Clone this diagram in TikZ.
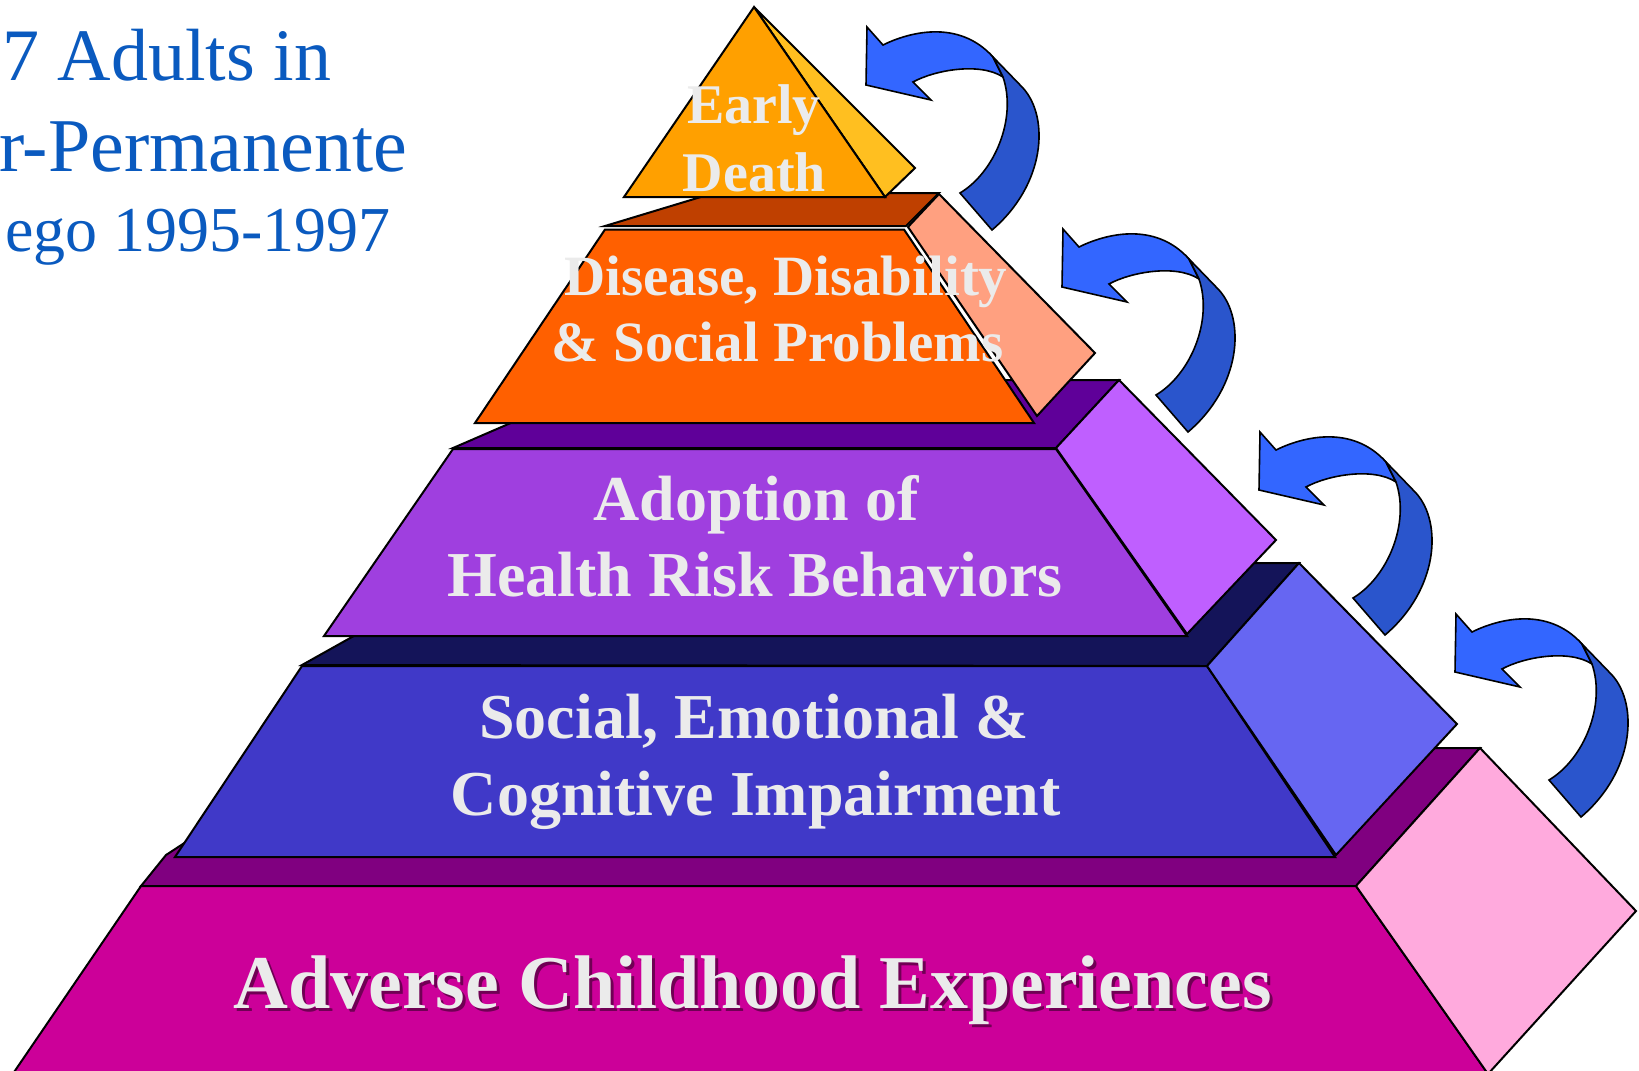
\documentclass[tikz,border=0pt]{standalone}
\usepackage{fontspec}
\setmainfont{Liberation Serif}
\definecolor{titleblue}{HTML}{0A5ABF}
\definecolor{txtgray}{HTML}{EBEBEB}
\definecolor{edfront}{HTML}{FFA000}
\definecolor{edside}{HTML}{FFBF20}
\definecolor{ddtop}{HTML}{BF4000}
\definecolor{ddfront}{HTML}{FF6000}
\definecolor{ddside}{HTML}{FFA080}
\definecolor{adtop}{HTML}{5F0099}
\definecolor{adfront}{HTML}{9F3FDF}
\definecolor{adside}{HTML}{BF5FFF}
\definecolor{sotop}{HTML}{141459}
\definecolor{sofront}{HTML}{4039C8}
\definecolor{soside}{HTML}{6666F2}
\definecolor{actop}{HTML}{800080}
\definecolor{acfront}{HTML}{CC0099}
\definecolor{acside}{HTML}{FFAADD}
\definecolor{arrlight}{HTML}{3366FF}
\definecolor{arrdark}{HTML}{2A55CC}
\newcommand\fsz[1]{\fontsize{#1}{#1}\selectfont\bfseries}
\tikzset{
  face/.style={draw=black, line width=2pt, line join=miter},
  arrowpart/.style={draw=black, line width=1.6pt, line join=miter},
  lt/.style={text=txtgray, inner sep=0pt, anchor=base},
  tt/.style={text=titleblue, inner sep=0pt, anchor=base west}
}
\begin{document}
\begin{tikzpicture}[x=1pt,y=-1pt]
\useasboundingbox (0,0) rectangle (1639,1071);
\clip (0,0) rectangle (1639,1071);
\fill[white] (0,0) rectangle (1639,1071);

% title (cut at left edge)
\node[tt, font=\fontsize{74}{74}\selectfont] (title1) at (2,80.7) {7 Adults in};
\node[tt, font=\fontsize{76}{76}\selectfont] (title2) at (-1,171.7) {r-Permanente};
\node[tt, font=\fontsize{64}{64}\selectfont] (title3) at (5,251.7) {ego 1995-1997};

% layer 5: Adverse Childhood Experiences
\filldraw[face, fill=actop] (141,886) -- (166,855) -- (330,748) -- (1480,748) -- (1356,886) -- cycle;
\filldraw[face, fill=acfront] (141,886) -- (1356,886) -- (1491,1078) -- (10,1078) -- cycle;
\filldraw[face, fill=acside] (1356,886) -- (1480,748) -- (1636,911) -- (1488,1074) -- cycle;

% layer 4: Social, Emotional & Cognitive Impairment
\filldraw[face, fill=sotop] (302,665) -- (484,563) -- (1299,563) -- (1207,666) -- cycle;
\filldraw[face, fill=sofront] (302,666) -- (1207,666) -- (1335,857) -- (175,857) -- cycle;
\filldraw[face, fill=soside] (1207,666) -- (1299,563) -- (1457,724) -- (1336,855) -- cycle;

% layer 3: Adoption of Health Risk Behaviors
\filldraw[face, fill=adtop] (453,448) -- (610,380) -- (1119,380) -- (1056,448) -- cycle;
\filldraw[face, fill=adfront] (453,449) -- (1056,449) -- (1187,636) -- (324,636) -- cycle;
\filldraw[face, fill=adside] (1056,448) -- (1119,380) -- (1276,540) -- (1187,634) -- cycle;

% layer 2: Disease, Disability & Social Problems
\filldraw[face, fill=ddtop] (605,226) -- (714,193) -- (939,193) -- (906,226) -- cycle;
\filldraw[face, fill=ddfront] (605,229.5) -- (904,229.5) -- (1034,423) -- (475,423) -- cycle;
\filldraw[face, fill=ddside] (908,227) -- (939,194) -- (1095,353) -- (1037,416) -- cycle;

% layer 1: Early Death
\filldraw[face, fill=edside] (754,7) -- (915,168) -- (885,197) -- cycle;
\filldraw[face, fill=edfront] (754,7) -- (624,197) -- (885,197) -- cycle;

% curved arrows
\foreach \dx/\dy in {0/0, 196/202, 393/405, 589/587} {
  \begin{scope}[shift={(\dx,\dy)}]
    \filldraw[arrowpart, fill=arrlight] (866,85) -- (931,100) -- (913,82)
      .. controls (935,70) and (980,62) .. (1003,77) -- (993,57)
      .. controls (958,18) and (907,33) .. (883,45) -- (867,27) -- cycle;
    \filldraw[arrowpart, fill=arrdark] (993,57) -- (1023,88)
      .. controls (1050,118) and (1045,185) .. (992,230) -- (960,193)
      .. controls (995,172) and (1017,118) .. (1003,77) -- cycle;
  \end{scope}
}

% layer texts
\node[lt, font=\fsz{56}] (ed1) at (754,123.3) {Early};
\node[lt, font=\fsz{56}] (ed2) at (754.5,191.7) {Death};
\node[lt, font=\fsz{57}] (dd1) at (785.8,295) {Disease, Disability};
\node[lt, font=\fsz{57}] (dd2) at (777.6,361.7) {\& Social Problems};
\node[lt, font=\fsz{64}] (ad1) at (756,520) {Adoption of};
\node[lt, font=\fsz{64}] (ad2) at (755,596.7) {Health Risk Behaviors};
\node[lt, font=\fsz{64}] (so1) at (754,738.3) {Social, Emotional \&};
\node[lt, font=\fsz{64}] (so2) at (755.8,815) {Cognitive Impairment};
\node[lt, font=\fsz{76}, text=black, text opacity=0.45] (acshadow) at (755.6,1011.3) {Adverse Childhood Experiences};
\node[lt, font=\fsz{76}] (ac) at (752.6,1008.3) {Adverse Childhood Experiences};
\end{tikzpicture}
\end{document}
